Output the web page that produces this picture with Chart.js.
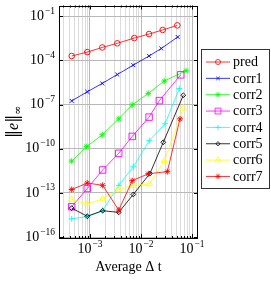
<!DOCTYPE html>
<html>
<head>
<meta charset="utf-8">
<script src="https://cdn.jsdelivr.net/npm/chart.js@4/dist/chart.umd.min.js"></script>
<style>
  html, body { margin: 0; padding: 0; background: #fff; }
</style>
</head>
<body>
<canvas id="chart" width="271" height="281"></canvas>
<script>
// error vs average time step, one array pair per method
const predDt  = [4.38e-4, 8.85e-4, 1.74e-3, 3.43e-3, 7.39e-3, 1.44e-2, 2.66e-2, 5.15e-2];
const predErr = [2.0e-4, 3.67e-4, 7.6e-4, 1.45e-3, 3.3e-3, 6.2e-3, 1.17e-2, 2.4e-2];

const corr1Dt  = [4.38e-4, 8.85e-4, 1.74e-3, 3.43e-3, 7.06e-3, 1.44e-2, 2.50e-2, 5.25e-2];
const corr1Err = [1.78e-7, 7.4e-7, 2.75e-6, 1.1e-5, 4.8e-5, 2.0e-4, 6.5e-4, 3.9e-3];

const corr2Dt  = [4.38e-4, 8.61e-4, 1.74e-3, 3.66e-3, 6.74e-3, 1.39e-2, 2.86e-2, 7.62e-2];
const corr2Err = [1.45e-11, 1.41e-10, 8.9e-10, 1.07e-8, 9.5e-8, 5.75e-7, 4.0e-6, 2.0e-5];

const corr3Dt  = [4.38e-4, 8.85e-4, 1.77e-3, 3.66e-3, 6.74e-3, 1.44e-2, 2.29e-2, 6.00e-2];
const corr3Err = [1.15e-14, 2.0e-13, 3.63e-12, 4.9e-11, 6.9e-10, 1.41e-8, 1.86e-7, 1.05e-5];

const corr4Dt  = [4.38e-4, 8.85e-4, 1.77e-3, 3.66e-3, 7.06e-3, 1.46e-2, 2.96e-2, 5.64e-2];
const corr4Err = [1.74e-15, 2.5e-15, 6.2e-15, 3.3e-13, 6.0e-12, 3.55e-10, 5.0e-9, 1.23e-6];

const corr5Dt  = [4.38e-4, 8.85e-4, 1.77e-3, 3.66e-3, 7.06e-3, 1.50e-2, 2.73e-2, 6.75e-2];
const corr5Err = [9.3e-15, 2.6e-15, 6.2e-15, 4.8e-15, 7.9e-14, 2.1e-12, 2.75e-10, 4.3e-7];

const corr6Dt  = [4.38e-4, 8.85e-4, 1.77e-3, 3.55e-3, 7.06e-3, 1.46e-2, 2.90e-2, 6.75e-2];
const corr6Err = [3.6e-14, 1.8e-14, 3.9e-14, 1.62e-13, 3.2e-13, 4.1e-13, 1.58e-11, 5.75e-8];

const corr7Dt  = [4.38e-4, 8.85e-4, 1.77e-3, 3.66e-3, 6.74e-3, 1.39e-2, 3.28e-2, 5.82e-2];
const corr7Err = [1.7e-13, 4.7e-13, 3.3e-13, 6.9e-15, 6.8e-13, 2.0e-12, 2.8e-12, 1.07e-8];

const seriesNames = ["pred", "corr1", "corr2", "corr3", "corr4", "corr5", "corr6", "corr7"];
const xTickExps = [-3, -2, -1];
const yTickExps = [-16, -13, -10, -7, -4, -1];

const seriesDt  = [predDt, corr1Dt, corr2Dt, corr3Dt, corr4Dt, corr5Dt, corr6Dt, corr7Dt];
const seriesErr = [predErr, corr1Err, corr2Err, corr3Err, corr4Err, corr5Err, corr6Err, corr7Err];

// look of each series (pgfplots style marks)
const styles = [
    { color: "#ff0000", pointStyle: "circle",   radius: 2.8 },
    { color: "#0000ff", pointStyle: "crossRot", radius: 2.8 },
    { color: "#00ff00", pointStyle: "star",     radius: 3 },
    { color: "#ff00ff", pointStyle: "rect",     radius: 4.6 },
    { color: "#00ffff", pointStyle: "cross",    radius: 3 },
    { color: "#000000", pointStyle: "rectRot",  radius: 2.4 },
    { color: "#ffff00", pointStyle: "triangle", radius: 3.6 },
    { color: "#ff0000", pointStyle: "star",     radius: 3 }
];

const serif = "'Liberation Serif', 'DejaVu Serif', serif";

const datasets = seriesNames.map((name, i) => ({
    label: name,
    data: seriesDt[i].map((dt, j) => ({ x: dt, y: seriesErr[i][j] })),
    borderColor: styles[i].color,
    backgroundColor: "rgba(0,0,0,0)",
    borderWidth: 0.8,
    pointStyle: styles[i].pointStyle,
    pointRadius: styles[i].radius,
    pointBorderWidth: 0.9,
    pointBorderColor: styles[i].color,
    pointBackgroundColor: "rgba(0,0,0,0)",
    tension: 0,
    order: -i
}));

function isDecade(v) {
    const l = Math.log10(v);
    return Math.abs(l - Math.round(l)) < 1e-6;
}

// "10" with a raised exponent, y is the middle of the "10"
function drawPow(ctx, exp, x, y, align) {
    const base = "14px " + serif;
    const sup = "9.5px " + serif;
    ctx.font = base;
    const w1 = ctx.measureText("10").width;
    ctx.font = sup;
    const e = "\u2212" + Math.abs(exp);
    const w2 = ctx.measureText(e).width;
    const left = align === "right" ? x - w1 - w2 - 1 : x - (w1 + w2 + 1) / 2;
    ctx.textAlign = "left";
    ctx.textBaseline = "middle";
    ctx.font = base;
    ctx.fillText("10", left, y);
    ctx.font = sup;
    ctx.fillText(e, left + w1 + 1, y - 5);
}

const decorPlugin = {
    id: "decor",
    afterDraw(chart) {
        const ctx = chart.ctx;
        const a = chart.chartArea;
        const xs = chart.scales.x, ys = chart.scales.y;
        ctx.save();
        ctx.fillStyle = "#000";
        ctx.strokeStyle = "#000";
        ctx.lineWidth = 1;

        // frame and inner tick marks
        ctx.strokeRect(Math.round(a.left) + 0.5, Math.round(a.top) + 0.5,
            Math.round(a.right - a.left) - 1, Math.round(a.bottom - a.top) - 1);
        ctx.beginPath();
        xs.ticks.forEach(t => {
            const px = Math.round(xs.getPixelForValue(t.value)) + 0.5;
            const len = isDecade(t.value) ? 4 : 2;
            ctx.moveTo(px, a.bottom); ctx.lineTo(px, a.bottom - len);
            ctx.moveTo(px, a.top); ctx.lineTo(px, a.top + len);
        });
        ys.ticks.forEach(t => {
            const py = Math.round(ys.getPixelForValue(t.value)) + 0.5;
            ctx.moveTo(a.left, py); ctx.lineTo(a.left + 4, py);
            ctx.moveTo(a.right, py); ctx.lineTo(a.right - 4, py);
        });
        ctx.stroke();

        // tick labels
        yTickExps.forEach(e => {
            drawPow(ctx, e, a.left - 4, ys.getPixelForValue(Math.pow(10, e)), "right");
        });
        xTickExps.forEach(e => {
            drawPow(ctx, e, xs.getPixelForValue(Math.pow(10, e)), a.bottom + 11, "center");
        });

        // axis titles
        ctx.font = "14px " + serif;
        ctx.textAlign = "center";
        ctx.textBaseline = "middle";
        ctx.fillText("Average \u0394 t", (a.left + a.right) / 2, 267);

        ctx.translate(14, (a.top + a.bottom) / 2);
        ctx.rotate(-Math.PI / 2);
        const parts = [
            { t: "\u2016", f: "16px 'DejaVu Serif', serif", dy: 0 },
            { t: "e", f: "italic 16px " + serif, dy: 0 },
            { t: "\u2016", f: "16px 'DejaVu Serif', serif", dy: 0 },
            { t: "\u221e", f: "11px 'DejaVu Serif', serif", dy: 4 }
        ];
        let total = 0;
        parts.forEach(p => { ctx.font = p.f; p.w = ctx.measureText(p.t).width; total += p.w; });
        let cx = -total / 2;
        ctx.textAlign = "left";
        parts.forEach(p => { ctx.font = p.f; ctx.fillText(p.t, cx, p.dy); cx += p.w; });
        ctx.restore();

        // legend box with line + mark samples
        ctx.save();
        const lx = 201.5, ly = 49.5, lw = 68, lh = 139;
        ctx.fillStyle = "#fff";
        ctx.fillRect(lx, ly, lw, lh);
        ctx.strokeStyle = "#333";
        ctx.lineWidth = 1;
        ctx.strokeRect(lx, ly, lw, lh);
        chart.data.datasets.forEach((ds, i) => {
            const y = 62 + i * 16.35;
            ctx.strokeStyle = ds.borderColor;
            ctx.lineWidth = 0.8;
            ctx.beginPath();
            ctx.moveTo(206, y); ctx.lineTo(230, y);
            ctx.stroke();
            ctx.fillStyle = "rgba(0,0,0,0)";
            Chart.helpers.drawPoint(ctx, {
                pointStyle: ds.pointStyle, radius: ds.pointRadius * 0.9,
                rotation: 0, borderWidth: 0.9
            }, 218, y);
            ctx.fillStyle = "#000";
            ctx.font = "14px " + serif;
            ctx.textAlign = "left";
            ctx.textBaseline = "middle";
            ctx.fillText(ds.label, 233, y + 0.5);
        });
        ctx.restore();
    }
};

function xTickList(scale) {
    const list = [];
    for (let n = -4; n <= 0; n++) {
        for (let k = 1; k <= 9; k++) {
            const v = k * Math.pow(10, n);
            if (v >= scale.min && v <= scale.max) list.push({ value: v });
        }
    }
    scale.ticks = list;
}

new Chart(document.getElementById("chart"), {
    type: "line",
    data: { datasets: datasets },
    options: {
        responsive: false,
        animation: false,
        layout: { padding: { left: 59, top: 0, right: 73, bottom: 43 } },
        plugins: { legend: { display: false }, tooltip: { enabled: false } },
        scales: {
            x: {
                type: "logarithmic",
                min: 2.47e-4,
                max: 0.131,
                bounds: "data",
                afterBuildTicks: xTickList,
                ticks: { display: false },
                border: { display: false },
                grid: {
                    drawTicks: false,
                    lineWidth: 1,
                    color: ctx => isDecade(ctx.tick.value) ? "#b8b8b8" : "#dcdcdc"
                }
            },
            y: {
                type: "logarithmic",
                min: 8.7e-17,
                max: 0.537,
                bounds: "data",
                afterBuildTicks: scale => {
                    scale.ticks = yTickExps.map(e => ({ value: Math.pow(10, e) }));
                },
                ticks: { display: false },
                border: { display: false },
                grid: { drawTicks: false, lineWidth: 1, color: "#b8b8b8" }
            }
        }
    },
    plugins: [decorPlugin]
});
</script>
</body>
</html>
